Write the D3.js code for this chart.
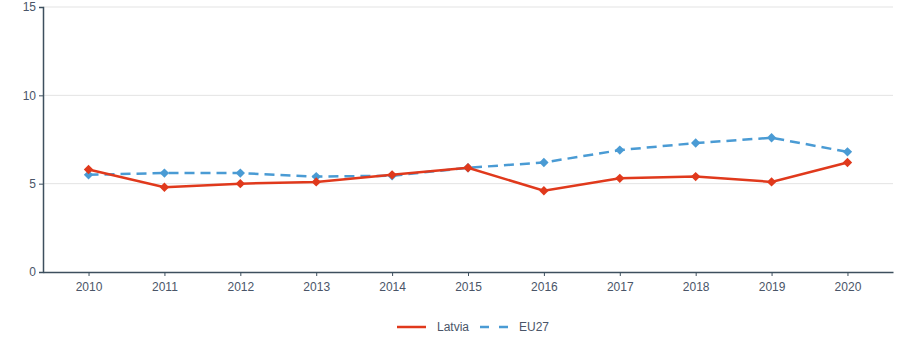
<!DOCTYPE html>
<html><head><meta charset="utf-8">
<script src="https://cdn.jsdelivr.net/npm/d3@7"></script>
<style>body{margin:0;background:#fff;font-family:"Liberation Sans",Arial,sans-serif;}</style>
</head><body><svg id="c" width="900" height="360"></svg>
<script>
const years = [2010,2011,2012,2013,2014,2015,2016,2017,2018,2019,2020];
const latvia = [5.8,4.8,5.0,5.1,5.5,5.9,4.6,5.3,5.4,5.1,6.2];
const eu27 = [5.5,5.6,5.6,5.4,5.45,5.9,6.2,6.9,7.3,7.6,6.8];
const yTicks = [0,5,10,15];
const seriesNames = ["Latvia","EU27"];

(function(){
const svg = d3.select("#c");
const mL = 43, mR = 893, mT = 7, mB = 272;
const font = "Liberation Sans, Arial, sans-serif";
const x = d3.scalePoint().domain(years).range([mL, mR]).padding(0.6);
const y = d3.scaleLinear().domain([0,15]).range([mB, mT]);
const txt = "#4a5568", axisCol = "#3d4f5e";

// grid
svg.append("g").selectAll("line").data(yTicks.filter(d=>d>0)).join("line")
  .attr("x1", mL).attr("x2", mR).attr("y1", d=>y(d)).attr("y2", d=>y(d))
  .attr("stroke", "#e3e3e3").attr("stroke-width", 1);

// y axis
const ya = svg.append("g").attr("transform", `translate(${mL},0)`)
  .call(d3.axisLeft(y).tickValues(yTicks).tickSize(4).tickPadding(3).tickFormat(d3.format("d")));
ya.select(".domain").attr("stroke", axisCol).attr("stroke-width", 1.5);
ya.selectAll(".tick line").attr("stroke", axisCol);
ya.selectAll("text").attr("fill", txt).attr("font-size", 12).attr("font-family", font);

// x axis
const xa = svg.append("g").attr("transform", `translate(0,${mB})`)
  .call(d3.axisBottom(x).tickSize(4).tickSizeOuter(0).tickPadding(6).tickFormat(d3.format("d")));
xa.select(".domain").attr("stroke", axisCol).attr("stroke-width", 1.5);
xa.selectAll(".tick line").attr("stroke", axisCol);
xa.selectAll("text").attr("fill", txt).attr("font-size", 12).attr("font-family", font);

const cols = ["#e0391c", "#4a9bd4"];
const dashes = [null, "10,6"];
const datas = [latvia, eu27];
const line = d3.line().x((d,i)=>x(years[i])).y(d=>y(d));
const diamond = d3.symbol().type(d3.symbolSquare).size(44);

[1,0].forEach(k => {
  svg.append("path").datum(datas[k]).attr("d", line)
    .attr("fill", "none").attr("stroke", cols[k]).attr("stroke-width", 2.5)
    .attr("stroke-dasharray", dashes[k]);
  svg.append("g").selectAll("path").data(datas[k]).join("path")
    .attr("d", diamond)
    .attr("transform", (d,i)=>`translate(${x(years[i])},${y(d)}) rotate(45)`)
    .attr("fill", cols[k]);
});

// legend
const lg = svg.append("g");
const lx = [397, 480];
const tx = [437, 519];
seriesNames.forEach((n,k) => {
  lg.append("line").attr("x1", lx[k]).attr("x2", lx[k]+29).attr("y1", 327).attr("y2", 327)
    .attr("stroke", cols[k]).attr("stroke-width", 2.5).attr("stroke-dasharray", dashes[k] ? "9,10" : null);
  lg.append("text").attr("x", tx[k]).attr("y", 331).text(n)
    .attr("fill", txt).attr("font-size", 12).attr("font-family", font);
});
})();
</script></body></html>
